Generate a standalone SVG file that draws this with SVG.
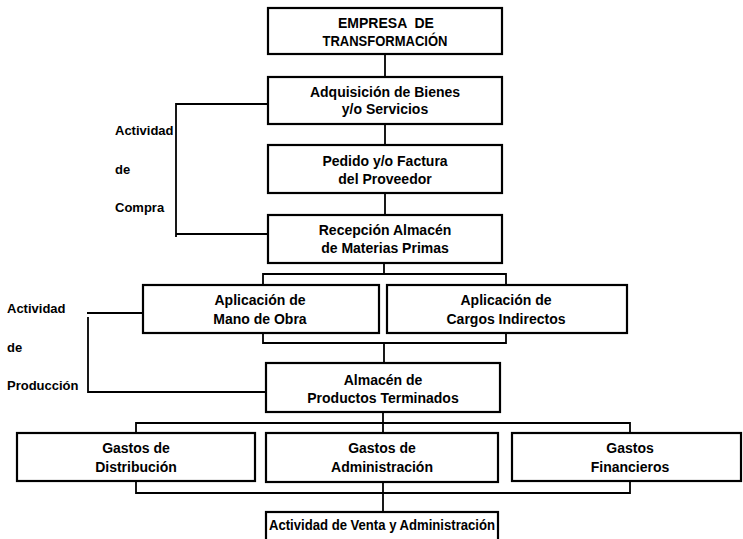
<svg xmlns="http://www.w3.org/2000/svg" width="743" height="539" viewBox="0 0 743 539">
<style>
.box{fill:#fff;stroke:#000;stroke-width:2.2}
.t{font-family:"Liberation Sans",Arial,sans-serif;font-weight:bold;font-size:14px;fill:#000;text-anchor:middle}
.l{font-family:"Liberation Sans",Arial,sans-serif;font-weight:bold;font-size:13px;fill:#000}
.c{fill:none;stroke:#000;stroke-width:1.8}
</style>
<rect width="743" height="539" fill="#fff"/>
<g id="connectors">
<path class="c" d="M385,54V77M385,124V145M385,193V215M384,263V274M263,285V274H506V285M263,333V343H506V333M384,343V363M383,412V433M136,433V423H630V433M136,481V493H630V481M383,482V512"/>
<path class="c" d="M268,104H176V237M176,234H268"/>
<path class="c" d="M143,313H87M88,317V392H266"/>
</g>
<g id="n1"><rect class="box" x="268" y="8" width="234" height="46"/>
<text class="t" x="386" y="28" xml:space="preserve">EMPRESA  DE</text>
<text class="t" x="385" y="46" textLength="125" lengthAdjust="spacingAndGlyphs">TRANSFORMACIÓN</text></g>
<g id="n2"><rect class="box" x="268" y="77" width="234" height="47"/>
<text class="t" x="385" y="97">Adquisición de Bienes</text>
<text class="t" x="385" y="114">y/o Servicios</text></g>
<g id="n3"><rect class="box" x="268" y="145" width="234" height="48"/>
<text class="t" x="385" y="166">Pedido y/o Factura</text>
<text class="t" x="385" y="184">del Proveedor</text></g>
<g id="n4"><rect class="box" x="268" y="215" width="234" height="48"/>
<text class="t" x="385" y="235">Recepción Almacén</text>
<text class="t" x="385" y="253">de Materias Primas</text></g>
<g id="n5"><rect class="box" x="143" y="285" width="236" height="48"/>
<text class="t" x="260" y="305">Aplicación de</text>
<text class="t" x="260" y="324">Mano de Obra</text></g>
<g id="n6"><rect class="box" x="387" y="285" width="240" height="48"/>
<text class="t" x="506" y="305">Aplicación de</text>
<text class="t" x="506" y="324">Cargos Indirectos</text></g>
<g id="n7"><rect class="box" x="266" y="363" width="234" height="49"/>
<text class="t" x="383" y="385">Almacén de</text>
<text class="t" x="383" y="403">Productos Terminados</text></g>
<g id="n8"><rect class="box" x="17" y="433" width="238" height="48"/>
<text class="t" x="136" y="453">Gastos de</text>
<text class="t" x="136" y="472">Distribución</text></g>
<g id="n9"><rect class="box" x="266" y="433" width="232" height="49"/>
<text class="t" x="382" y="453">Gastos de</text>
<text class="t" x="382" y="472">Administración</text></g>
<g id="n10"><rect class="box" x="512" y="433" width="229" height="48"/>
<text class="t" x="630" y="453">Gastos</text>
<text class="t" x="630" y="472">Financieros</text></g>
<g id="n11"><rect class="box" x="266" y="512" width="232" height="32"/>
<text class="t" x="382" y="530" textLength="226" lengthAdjust="spacingAndGlyphs">Actividad de Venta y Administración</text></g>
<g id="label-compra">
<text class="l" x="115" y="135">Actividad</text>
<text class="l" x="115" y="174">de</text>
<text class="l" x="115" y="212">Compra</text></g>
<g id="label-produccion">
<text class="l" x="7" y="313">Actividad</text>
<text class="l" x="7" y="352">de</text>
<text class="l" x="7" y="390">Producción</text></g>
</svg>
